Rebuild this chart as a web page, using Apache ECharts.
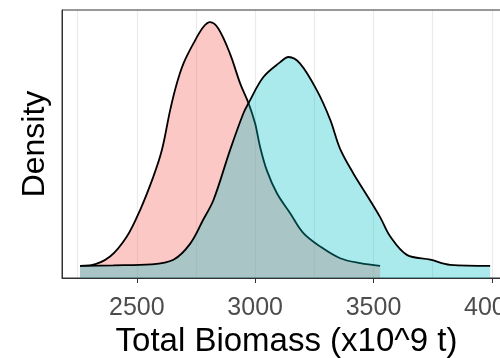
<!DOCTYPE html>
<html>
<head>
<meta charset="utf-8">
<script src="https://cdn.jsdelivr.net/npm/echarts@6/dist/echarts.min.js"></script>
<style>
  html, body { margin: 0; padding: 0; background: #fff; }
  #chart { width: 500px; height: 358px; }
</style>
</head>
<body>
<div id="chart"></div>
<script>
// density curves (y scaled so the tallest peak is 1)
const redX = [2260, 2303, 2387, 2458, 2514, 2570, 2606, 2641, 2669, 2697, 2739, 2781, 2810, 2845, 2894, 2937, 2972, 3000, 3021, 3049, 3092, 3148, 3204, 3275, 3359, 3444, 3528];
const redY = [0, 0.002, 0.038, 0.12, 0.229, 0.366, 0.475, 0.639, 0.748, 0.83, 0.912, 0.98, 1.0, 0.973, 0.87, 0.748, 0.668, 0.584, 0.488, 0.393, 0.298, 0.216, 0.134, 0.079, 0.031, 0.011, 0];

const tealX = [2260, 2400, 2560, 2655, 2725, 2781, 2824, 2894, 2950, 2972, 3035, 3106, 3141, 3190, 3261, 3317, 3359, 3415, 3472, 3528, 3571, 3641, 3740, 3824, 3993];
const tealY = [0, 0.002, 0.006, 0.025, 0.09, 0.19, 0.27, 0.475, 0.625, 0.668, 0.775, 0.836, 0.857, 0.83, 0.72, 0.6, 0.48, 0.379, 0.29, 0.2, 0.12, 0.045, 0.025, 0.004, 0];

const majorTicks = [2500, 3000, 3500, 4000];

// panel limits (ggplot-style 5% padding around the data)
const xMin = 2184;
const xMax = 4081;
const panelLeft = 62;
const panelWidth = 449;
// gridlines every 250 between these two
const gridFrom = 2250;
const gridTo = 4000;

const pxPerUnit = panelWidth / (xMax - xMin);

const chart = echarts.init(document.getElementById("chart"), null, { renderer: "canvas" });

const pairs = (xs, ys) => xs.map((x, i) => [x, ys[i]]);

const densitySeries = (name, xs, ys, fill, z) => ({
  name,
  type: "line",
  data: pairs(xs, ys),
  smooth: 0.35,
  symbol: "none",
  z,
  lineStyle: { color: "#000", width: 1.8 },
  areaStyle: { color: fill, opacity: 1, origin: "start" },
  silent: true,
});

chart.setOption({
  animation: false,
  grid: [
    {
      left: panelLeft,
      top: 10,
      width: panelWidth,
      bottom: 80,
      outerBoundsMode: "none",
      containLabel: false,
      show: true,
      borderColor: "#333",
      borderWidth: 1,
      backgroundColor: "transparent",
      z: 3,
    },
    {
      // background grid for the vertical gridlines only
      left: panelLeft + (gridFrom - xMin) * pxPerUnit,
      width: (gridTo - gridFrom) * pxPerUnit,
      top: 10,
      bottom: 80,
      outerBoundsMode: "none",
      containLabel: false,
      z: 0,
    },
  ],
  xAxis: [
    {
      type: "value",
      gridIndex: 0,
      min: xMin,
      max: xMax,
      name: "Total Biomass (x10^9 t)",
      nameLocation: "middle",
      nameGap: 44,
      nameTextStyle: { color: "#000", fontSize: 33, fontFamily: "Liberation Sans" },
      axisLine: { show: true, onZero: false, lineStyle: { color: "#333", width: 1 } },
      axisTick: {
        show: true,
        length: 5,
        customValues: majorTicks,
        lineStyle: { color: "#333", width: 1 },
      },
      axisLabel: {
        customValues: majorTicks,
        formatter: (v) => String(v),
        color: "#4d4d4d",
        fontSize: 25,
        fontFamily: "Liberation Sans",
        margin: 18,
      },
      splitLine: { show: false },
    },
    {
      type: "value",
      gridIndex: 1,
      min: gridFrom,
      max: gridTo,
      interval: 250,
      axisLine: { show: false },
      axisTick: { show: false },
      axisLabel: { show: false },
      splitLine: { show: true, lineStyle: { color: "#ebebeb", width: 1.2 } },
    },
  ],
  yAxis: [
    {
      type: "value",
      gridIndex: 0,
      min: -0.05,
      max: 1.05,
      name: "Density",
      nameLocation: "middle",
      nameRotate: 90,
      nameGap: 11,
      nameTextStyle: { color: "#000", fontSize: 32, fontFamily: "Liberation Sans" },
      axisLine: { show: true, lineStyle: { color: "#333", width: 1 } },
      axisTick: { show: false },
      axisLabel: { show: false },
      splitLine: { show: false },
    },
    {
      type: "value",
      gridIndex: 1,
      min: 0,
      max: 1,
      axisLine: { show: false },
      axisTick: { show: false },
      axisLabel: { show: false },
      splitLine: { show: false },
    },
  ],
  series: [
    densitySeries("Scenario A", redX, redY, "rgba(248,118,109,0.4)", 2),
    densitySeries("Scenario B", tealX, tealY, "rgba(0,191,196,0.33)", 3),
  ],
});
</script>
</body>
</html>
